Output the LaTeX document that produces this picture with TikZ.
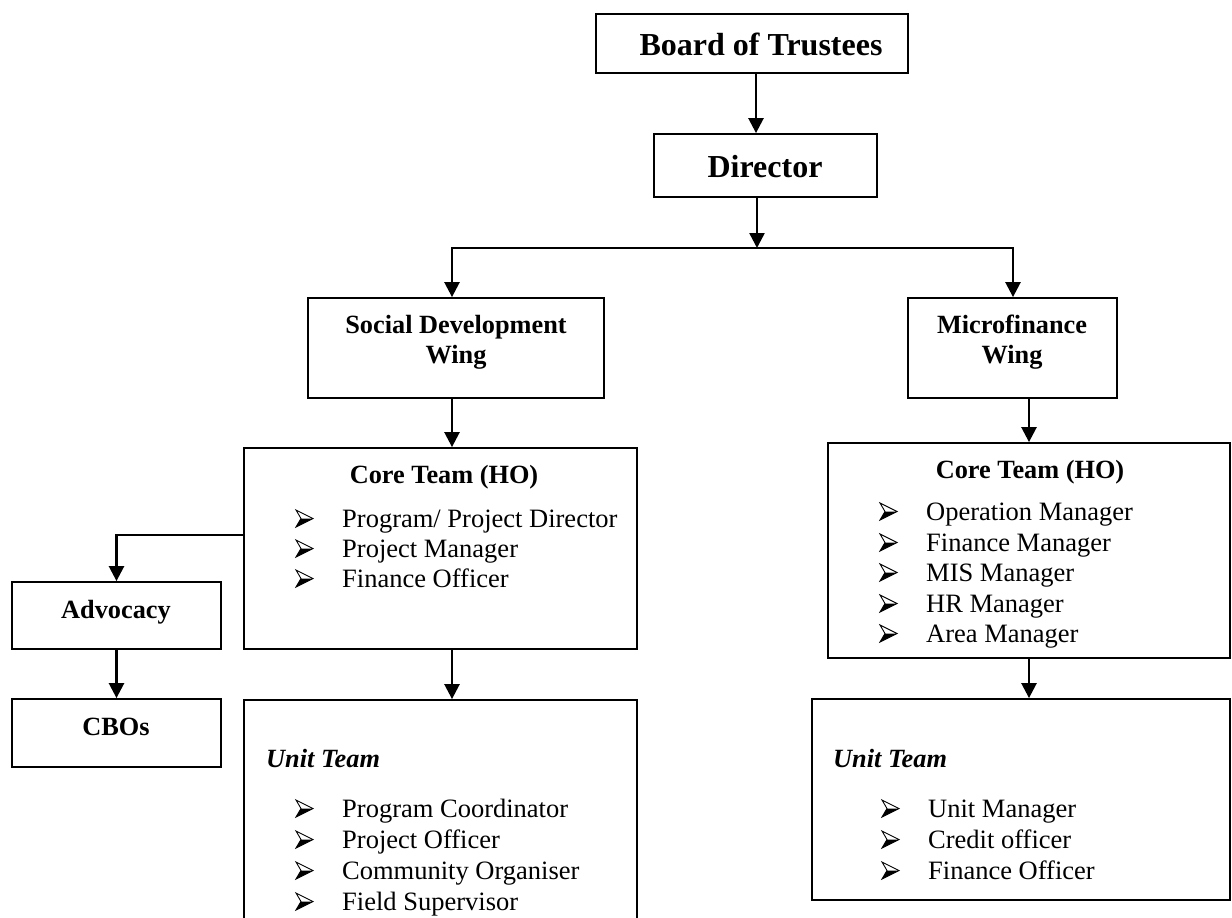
\documentclass[tikz,border=0pt]{standalone}
\usepackage{fontspec}
\setmainfont{Liberation Serif}
\usetikzlibrary{arrows.meta}
\newcommand\mkbox[5]{\node[box, minimum width={#4-#2}, minimum height={#5-#3}] (#1) at ({(#2+#4)/2},{(#3+#5)/2}) {};}
\newcommand\bitem[4]{\pic at (#2-46,#3) {arrbullet}; \node[itm] (#1) at (#2,#3) {#4};}
\tikzset{
  box/.style={draw, line width=1.8pt, rectangle, inner sep=0pt},
  arr/.style={line width=2.5pt, -{Triangle[width=15pt,length=15pt]}},
  big/.style={font=\fontsize{32}{38}\selectfont\bfseries, anchor=base, inner sep=0pt},
  hd/.style={font=\fontsize{26.3}{31}\selectfont\bfseries, anchor=base, inner sep=0pt},
  ithd/.style={font=\fontsize{26.3}{31}\selectfont\bfseries\itshape, anchor=base west, inner sep=0pt},
  itm/.style={font=\fontsize{26.5}{31}\selectfont, anchor=base west, inner sep=0pt},
  arrbullet/.pic={
    \fill[black] (17,-8.5) -- (0,0) -- (5,-8.5) -- cycle;
    \draw[line width=0.9pt, line join=miter] (0,0) -- (17,-8.5) -- (0,-17) -- (5,-8.5) -- cycle;
  },
}
\begin{document}
\begin{tikzpicture}[x=1pt,y=-1pt]
\useasboundingbox (0,0) rectangle (1232,918);
\clip (0,0) rectangle (1232,918);
\fill[white] (0,0) rectangle (1232,918);
% boxes
\mkbox{board}{596}{14}{908}{73}
\mkbox{director}{654}{134}{877}{197}
\mkbox{sdw}{308}{298}{604}{398}
\mkbox{mfw}{908}{298}{1117}{398}
\mkbox{coreL}{244}{448}{637}{649}
\mkbox{coreR}{828}{443}{1230}{658}
\mkbox{adv}{12}{582}{221}{649}
\mkbox{cbos}{12}{699}{221}{767}
\mkbox{unitL}{244}{700}{637}{940}
\mkbox{unitR}{812}{699}{1230}{900}
% connectors
\coordinate (j) at (757,248);
\draw[arr] (756,0 |- board.south) -- (756,0 |- director.north);
\draw[arr] (757,0 |- director.south) -- (j);
\draw[arr] (j) -| (452,0 |- sdw.north);
\draw[arr] (j) -| (1013,0 |- mfw.north);
\draw[arr] (452,0 |- sdw.south) -- (452,0 |- coreL.north);
\draw[arr] (1029,0 |- mfw.south) -- (1029,0 |- coreR.north);
\draw[arr] (coreL.west |- 0,535) -| (adv.north);
\draw[arr] (adv.south) -- (cbos.north);
\draw[arr] (452,0 |- coreL.south) -- (452,0 |- unitL.north);
\draw[arr] (1029,0 |- coreR.south) -- (1029,0 |- unitR.north);
% titles
\node[big] (tBoard) at (761,55) {Board of Trustees};
\node[big] (tDir) at (765,177) {Director};
\node[hd] (tSdwA) at (456,333) {Social Development};
\node[hd] (tSdwB) at (456,363) {Wing};
\node[hd] (tMfwA) at (1012,333) {Microfinance};
\node[hd] (tMfwB) at (1012,363) {Wing};
\node[hd] (tCoreL) at (444,483) {Core Team (HO)};
\node[hd] (tCoreR) at (1030,478) {Core Team (HO)};
\node[hd] (tAdv) at (116,618) {Advocacy};
\node[hd] (tCbo) at (116,735) {CBOs};
\node[ithd] (tUnitL) at (266,767) {Unit Team};
\node[ithd] (tUnitR) at (833,767) {Unit Team};
% items
\bitem{cl1}{342}{527}{Program/ Project Director}
\bitem{cl2}{342}{557}{Project Manager}
\bitem{cl3}{342}{587}{Finance Officer}
\bitem{cr1}{926}{520}{Operation Manager}
\bitem{cr2}{926}{551}{Finance Manager}
\bitem{cr3}{926}{581}{MIS Manager}
\bitem{cr4}{926}{612}{HR Manager}
\bitem{cr5}{926}{642}{Area Manager}
\bitem{ul1}{342}{817}{Program Coordinator}
\bitem{ul2}{342}{848}{Project Officer}
\bitem{ul3}{342}{879}{Community Organiser}
\bitem{ul4}{342}{910}{Field Supervisor}
\bitem{ur1}{928}{817}{Unit Manager}
\bitem{ur2}{928}{848}{Credit officer}
\bitem{ur3}{928}{879}{Finance Officer}
\end{tikzpicture}
\end{document}
